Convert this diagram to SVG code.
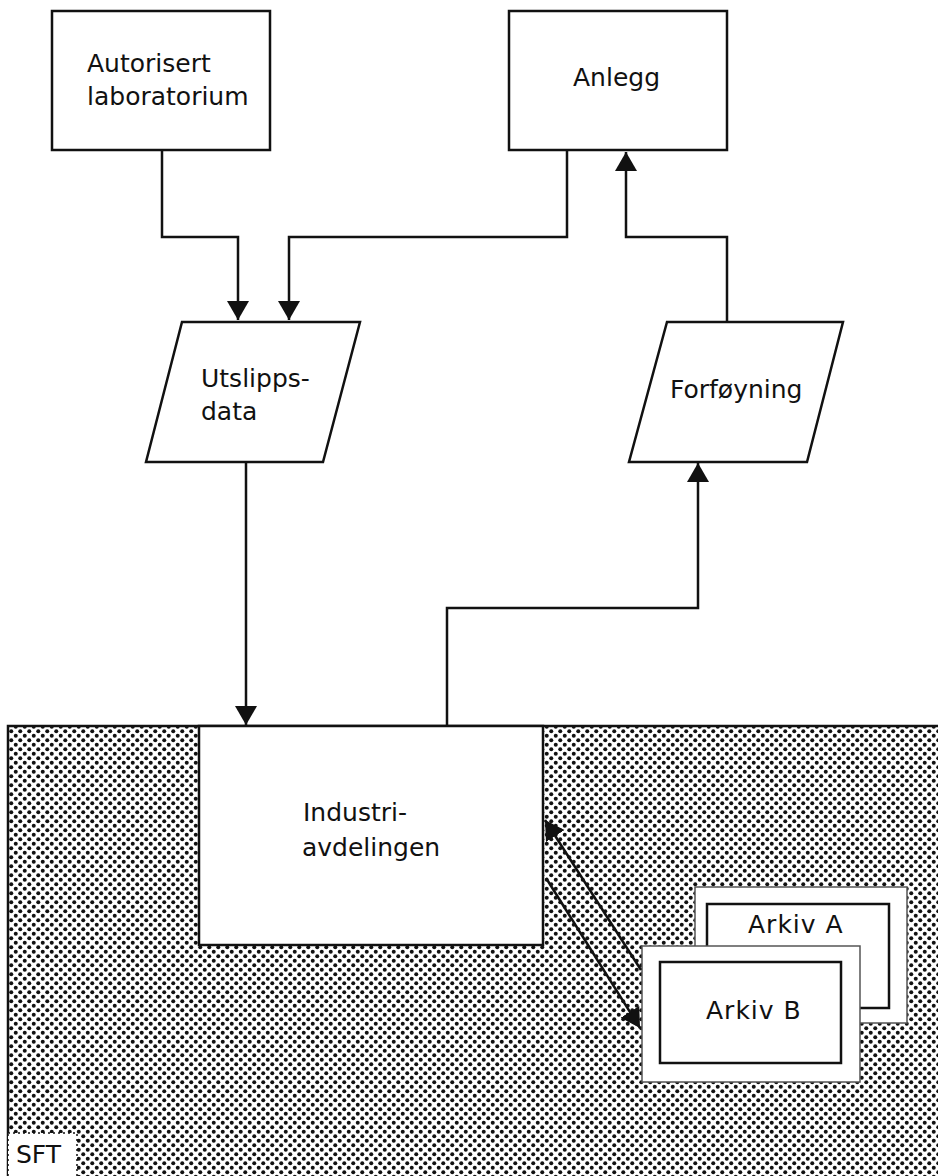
<svg xmlns="http://www.w3.org/2000/svg" width="938" height="1176" viewBox="0 0 938 1176">
<defs>
<pattern id="dots" x="0" y="0" width="9" height="9" patternUnits="userSpaceOnUse">
<rect width="9" height="9" fill="#ffffff"/>
<circle cx="2.25" cy="2.25" r="2" fill="#111"/>
<circle cx="6.75" cy="6.75" r="2" fill="#111"/>
</pattern>
<marker id="arr" markerUnits="userSpaceOnUse" markerWidth="20" markerHeight="24" refX="19" refY="11" orient="auto">
<path d="M0,0 L19,11 L0,22 z" fill="#111"/>
</marker>
</defs>
<style>
.box{fill:#fff;stroke:#111;stroke-width:2.5}
.lbl{font-family:"DejaVu Sans",sans-serif;font-size:25px;fill:#111}
.con{fill:none;stroke:#111;stroke-width:2.5}
</style>
<rect width="938" height="1176" fill="#fff"/>
<g id="sft-area">
<rect x="8" y="726" width="940" height="460" fill="url(#dots)" stroke="#111" stroke-width="2.5"/>
<rect x="8" y="1133" width="69" height="45" fill="#fff" stroke="#111" stroke-width="1.5" stroke-dasharray="2,3"/>
<text class="lbl" x="16" y="1163">SFT</text>
</g>
<g id="lab">
<rect class="box" x="52" y="11" width="218" height="139"/>
<text class="lbl" x="87" y="72">Autorisert</text>
<text class="lbl" x="87" y="105">laboratorium</text>
</g>
<g id="anlegg">
<rect class="box" x="509" y="11" width="218" height="139"/>
<text class="lbl" x="573" y="86">Anlegg</text>
</g>
<g id="utslipp">
<polygon class="box" points="182,322 360,322 323,462 146,462"/>
<text class="lbl" x="201" y="387">Utslipps-</text>
<text class="lbl" x="201" y="420">data</text>
</g>
<g id="forfoyning">
<polygon class="box" points="667,322 843,322 807,462 629,462"/>
<text class="lbl" x="670" y="398">Forføyning</text>
</g>
<g id="industri">
<rect class="box" x="199" y="726" width="344" height="219"/>
<text class="lbl" x="303" y="821">Industri-</text>
<text class="lbl" x="302" y="856">avdelingen</text>
</g>
<g id="arkivA">
<rect x="695" y="887" width="212" height="136" fill="#fff" stroke="#555" stroke-width="1.5"/>
<rect class="box" x="707" y="904" width="182" height="104"/>
<text class="lbl" x="748" y="933" letter-spacing="1">Arkiv A</text>
</g>
<g id="arkivB">
<rect x="642" y="946" width="218" height="136" fill="#fff" stroke="#555" stroke-width="1.5"/>
<rect class="box" x="660" y="962" width="181" height="101"/>
<text class="lbl" x="706" y="1019" letter-spacing="1">Arkiv B</text>
</g>
<g id="connectors">
<path class="con" d="M162,150 V237 H238 V320" marker-end="url(#arr)"/>
<path class="con" d="M567,150 V237 H289 V320" marker-end="url(#arr)"/>
<path class="con" d="M246,462 V725" marker-end="url(#arr)"/>
<path class="con" d="M447,726 V608 H698 V463" marker-end="url(#arr)"/>
<path class="con" d="M727,322 V237 H626 V152" marker-end="url(#arr)"/>
<path class="con" d="M641,970 L545,820" marker-end="url(#arr)"/>
<path class="con" d="M546,878 L640,1028" marker-end="url(#arr)"/>
</g>
</svg>
